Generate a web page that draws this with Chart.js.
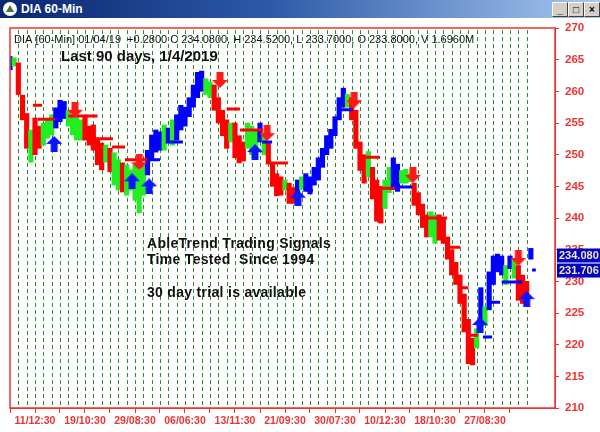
<!DOCTYPE html>
<html>
<head>
<meta charset="utf-8">
<script src="https://cdn.jsdelivr.net/npm/chart.js@4.4.1/dist/chart.umd.min.js"></script>
<style>
body { margin: 0; background: #fff; font-family: Arial, "Liberation Sans", sans-serif; }
#win { position: relative; width: 600px; height: 432px; overflow: hidden; }
#bar { position: absolute; left: 0; top: 0; width: 600px; height: 18px;
  background: linear-gradient(to right, #0a2670 0%, #2c5aa8 45%, #a8c8f0 100%); }
#bar .ico { position: absolute; left: 3px; top: 2px; width: 14px; height: 14px; border-radius: 7px; background: #fff; }
#bar .ico:after { content: ""; position: absolute; left: 3px; top: 3px; border-left: 4px solid transparent;
  border-right: 4px solid transparent; border-bottom: 7px solid #3d7a3d; }
#bar .ttl { position: absolute; left: 21px; top: 2px; color: #fff; font: bold 12px Arial, "Liberation Sans", sans-serif; }
#bar .btn { position: absolute; top: 2px; width: 14px; height: 13px; background: #d4d0c8;
  border: 1px solid; border-color: #fff #404040 #404040 #fff; font: bold 10px Arial, sans-serif;
  color: #000; text-align: center; line-height: 13px; }
canvas { position: absolute; left: 0; top: 0; }
</style>
</head>
<body>
<div id="win">
  <canvas id="chart" width="600" height="432"></canvas>
  <div id="bar">
    <div class="ico"></div>
    <div class="ttl">DIA 60-Min</div>
    <div class="btn" style="left:552px">_</div>
    <div class="btn" style="left:568px">□</div>
    <div class="btn" style="left:584px">×</div>
  </div>
</div>
<script>
// hourly bars, one per slot, lows / highs / trend colour (b = up, g = neutral, r = down)
var lows = [263.4, 264.0, 259.5, 255.5, 251.0, 248.8, 250.0, 251.0, 251.5, 252.6,
  253.1, 254.2, 255.2, 255.7, 254.5, 253.1, 252.3, 252.3, 252.3, 251.5,
  250.7, 248.4, 247.6, 248.8, 247.3, 245.2, 244.4, 244.1, 243.6, 244.4,
  242.8, 240.8, 243.6, 246.8, 249.2, 250.4, 250.7, 250.7, 251.8, 251.5,
  252.3, 253.9, 254.5, 256.0, 257.5, 259.0, 260.0, 259.5, 259.0, 257.0,
  255.0, 253.0, 251.0, 252.0, 249.5, 248.7, 249.0, 251.0, 250.0, 250.7,
  252.0, 250.0, 248.5, 245.0, 243.5, 243.6, 244.4, 242.3, 242.3, 243.0,
  244.5, 244.2, 243.8, 245.2, 246.0, 248.0, 250.0, 251.0, 253.0, 255.5,
  257.5, 257.5, 255.5, 251.0, 247.5, 245.5, 246.5, 243.0, 239.5, 239.2,
  241.5, 244.0, 244.5, 244.2, 245.5, 245.5, 245.7, 242.0, 240.5, 238.5,
  237.0, 237.0, 236.0, 236.5, 236.0, 233.5, 231.0, 229.5, 226.5, 222.0,
  217.0, 216.8, 219.5, 223.5, 223.0, 225.5, 229.5, 231.5, 231.0, 229.5,
  232.0, 230.5, 227.0, 226.5, 228.0, 233.5];
var highs = [265.5, 265.3, 264.5, 259.4, 256.5, 253.9, 255.8, 254.5, 255.0, 255.5,
  256.3, 257.4, 258.6, 258.4, 257.0, 256.0, 255.8, 255.5, 255.9, 254.5,
  254.7, 252.3, 251.8, 251.5, 251.0, 250.3, 249.2, 248.7, 248.4, 247.6,
  248.4, 247.6, 248.4, 250.7, 253.1, 253.9, 253.6, 254.7, 254.2, 255.5,
  256.3, 257.8, 257.5, 259.0, 261.0, 263.0, 263.2, 262.0, 261.5, 261.0,
  259.0, 257.0, 255.5, 255.0, 255.0, 253.0, 252.0, 255.0, 254.5, 254.0,
  255.0, 253.5, 252.0, 248.5, 247.0, 246.5, 246.0, 245.5, 244.8, 246.0,
  246.5, 247.0, 246.5, 248.0, 249.5, 251.0, 253.0, 254.0, 256.0, 259.0,
  260.5, 259.5, 259.0, 257.0, 252.0, 250.0, 250.5, 248.0, 246.0, 245.0,
  246.0, 248.0, 249.5, 248.5, 247.5, 247.7, 247.0, 245.5, 244.0, 242.0,
  240.5, 241.0, 240.5, 240.5, 240.0, 237.0, 235.0, 233.0, 231.0, 228.0,
  224.0, 221.0, 222.5, 229.0, 226.0, 231.5, 234.0, 234.3, 234.0, 232.5,
  234.0, 233.5, 232.5, 231.0, 230.0, 235.2];
var trend = ['b','g','r','r','r','g','r','r','g','g',
  'g','b','b','b','g','g','g','g','r','r',
  'r','r','r','g','r','g','g','r','g','g',
  'g','g','g','b','b','b','b','g','b','g',
  'b','b','b','b','b','b','b','g','g','r',
  'r','r','r','g','r','r','r','g','g','g',
  'b','g','r','r','r','r','g','r','r','b',
  'g','b','b','b','b','b','b','b','b','b',
  'b','g','r','r','r','r','g','r','r','r',
  'g','g','b','b','g','g','g','r','r','r',
  'r','g','g','r','r','r','r','r','r','r',
  'r','r','g','b','g','b','b','b','b','g',
  'b','g','r','r','r','b'];

// trailing stop segments: start slot, end slot, level, colour
var stopFrom  = [5.5, 6.7, 14, 20.4, 24.5, 27.6, 33.0, 38.4, 52, 55.2, 60.5, 62.4, 71.3, 79.2, 84, 88.8, 92.4, 97.7, 100, 105, 108.5, 110, 113.5, 115.2, 118, 125.3];
var stopTo    = [7.7, 10.8, 21, 24.7, 27.6, 33.0, 36.0, 41.5, 55.2, 60.7, 62.9, 66.7, 72.7, 82.3, 88.8, 92.4, 96.5, 99.6, 104.9, 108, 110, 112.3, 115.7, 117.6, 122.9, 126.2];
var stopLevel = [257.8, 255.6, 256.1, 252.5, 251.2, 249.2, 249.2, 252.0, 257.2, 253.9, 252.0, 248.7, 244.4, 257.1, 249.6, 244.7, 244.9, 242.0, 240.0, 235.4, 229.0, 221.5, 221.2, 226.7, 229.9, 231.8];
var stopColor = ['r','r','r','r','r','r','b','b','r','r','b','r','b','b','r','r','b','r','r','r','r','r','b','b','b','b'];

// signal arrows
var sellX = [15.6, 31.0, 50.4, 61.7, 82.6, 96.7, 122.0];
var sellY = [257.1, 248.8, 261.8, 253.4, 258.6, 246.8, 233.7];
var buyX = [10.6, 29.3, 33.4, 58.8, 69.1, 112.8, 124.0];
var buyY = [251.7, 245.8, 245.0, 250.4, 243.2, 223.1, 227.2];

var xTickPos = [6, 18, 30, 42, 54, 66, 78, 90, 102, 114];
var xTickText = ['11/12:30', '19/10:30', '29/08:30', '06/06:30', '13/11:30', '21/09:30', '30/07:30', '10/12:30', '18/10:30', '27/08:30'];

var lastClose = 234.08;
var lastStop = 231.706;

var colorMap = { b: '#0000ff', g: '#22ee22', r: '#ff0000' };
var RED = '#ee3333';
var FONT = 'Arial, "Liberation Sans", sans-serif';

function makeArrow(color, up) {
  var c = document.createElement('canvas');
  c.width = 16; c.height = 16;
  var g = c.getContext('2d');
  g.fillStyle = color;
  g.beginPath();
  if (up) {
    g.moveTo(8, 0); g.lineTo(16, 8); g.lineTo(11.5, 8); g.lineTo(11.5, 16);
    g.lineTo(4.5, 16); g.lineTo(4.5, 8); g.lineTo(0, 8);
  } else {
    g.moveTo(8, 16); g.lineTo(16, 8); g.lineTo(11.5, 8); g.lineTo(11.5, 0);
    g.lineTo(4.5, 0); g.lineTo(4.5, 8); g.lineTo(0, 8);
  }
  g.closePath();
  g.fill();
  return c;
}

function stopData(col) {
  var pts = [];
  for (var i = 0; i < stopFrom.length; i++) {
    if (stopColor[i] !== col) continue;
    pts.push({ x: stopFrom[i], y: stopLevel[i] });
    pts.push({ x: stopTo[i], y: stopLevel[i] });
    pts.push({ x: stopTo[i], y: null });
  }
  return pts;
}

var barData = lows.map(function (lo, i) { return { x: i, y: [lo, highs[i]] }; });

var decor = {
  id: 'decor',
  beforeDatasetsDraw: function (chart) {
    var ctx = chart.ctx, a = chart.chartArea, xs = chart.scales.x;
    ctx.save();
    ctx.strokeStyle = '#2a8f2a';
    ctx.lineWidth = 1;
    ctx.setLineDash([4, 3]);
    for (var v = 2; v <= 124; v += 2) {
      var px = Math.round(xs.getPixelForValue(v)) + 0.5;
      ctx.beginPath();
      ctx.moveTo(px, a.top + 2);
      ctx.lineTo(px, a.bottom);
      ctx.stroke();
    }
    ctx.restore();
  },
  afterDatasetsDraw: function (chart) {
    var ctx = chart.ctx, a = chart.chartArea, ys = chart.scales.y;
    ctx.save();
    ctx.strokeStyle = RED;
    ctx.lineWidth = 1.5;
    ctx.strokeRect(a.left, a.top, a.right - a.left, a.bottom - a.top);

    ctx.fillStyle = '#111';
    ctx.textBaseline = 'middle';
    ctx.font = '11px ' + FONT;
    ctx.fillText('DIA [60-Min] 01/04/19  +0.2800 C 234.0800, H 234.5200, L 233.7000, O 233.8000, V 1.6960M', 14, 40);
    ctx.font = 'bold 15px ' + FONT;
    ctx.fillText('Last 90 days, 1/4/2019', 61, 57);
    ctx.font = 'bold 14px ' + FONT;
    ctx.letterSpacing = '0.3px';
    ctx.fillText('AbleTrend Trading Signals', 147, 244);
    ctx.fillText('Time Tested  Since 1994', 147, 260);
    ctx.fillText('30 day trial is available', 147, 293);
    ctx.letterSpacing = '0px';

    // last value tags on the price axis
    var tags = [lastClose.toFixed(3), lastStop.toFixed(3)];
    var vals = [lastClose, lastStop];
    ctx.font = 'bold 11px ' + FONT;
    for (var i = 0; i < 2; i++) {
      var py = ys.getPixelForValue(vals[i]);
      ctx.fillStyle = '#0000c8';
      ctx.fillRect(a.right + 2, py - 7, 45, 14);
      ctx.fillStyle = '#f0e8a8';
      ctx.fillText(tags[i], a.right + 4, py + 0.5);
    }
    ctx.restore();
  }
};

new Chart(document.getElementById('chart').getContext('2d'), {
  type: 'bar',
  data: {
    datasets: [
      { type: 'line', data: stopData('r'), borderColor: '#ff0000', borderWidth: 3, pointRadius: 0, spanGaps: false, order: 2 },
      { type: 'line', data: stopData('b'), borderColor: '#0000ff', borderWidth: 3, pointRadius: 0, spanGaps: false, order: 2 },
      { type: 'bar', data: barData, backgroundColor: trend.map(function (c) { return colorMap[c]; }),
        barThickness: 4.5, grouped: false, order: 3 },
      { type: 'line', data: sellX.map(function (x, i) { return { x: x, y: sellY[i] }; }), showLine: false,
        pointStyle: makeArrow('#ff1a1a', false), order: 1 },
      { type: 'line', data: buyX.map(function (x, i) { return { x: x, y: buyY[i] }; }), showLine: false,
        pointStyle: makeArrow('#0a14ff', true), order: 1 }
    ]
  },
  options: {
    responsive: false,
    animation: false,
    layout: { padding: { top: 28, left: 10, right: 0, bottom: 0 } },
    plugins: { legend: { display: false }, tooltip: { enabled: false } },
    scales: {
      x: {
        type: 'linear', min: 0, max: 130.8, offset: false,
        afterFit: function (s) { s.height = 24; },
        afterBuildTicks: function (s) {
          var t = [];
          for (var v = 0; v <= 120; v += 6) t.push({ value: v });
          s.ticks = t;
        },
        ticks: {
          autoSkip: false, maxRotation: 0, padding: 2,
          color: RED, font: { family: FONT, size: 10.5, weight: 'bold' },
          callback: function (v) { var k = xTickPos.indexOf(v); return k >= 0 ? xTickText[k] : ''; }
        },
        grid: { drawOnChartArea: false, offset: false, tickLength: 5, tickColor: RED },
        border: { color: RED }
      },
      y: {
        position: 'right', min: 210, max: 270,
        afterFit: function (s) { s.width = 45; },
        ticks: { stepSize: 5, padding: 6, color: RED, font: { family: FONT, size: 11.5, weight: 'bold' } },
        grid: { drawOnChartArea: false, tickLength: 4, tickColor: RED },
        border: { color: RED }
      }
    }
  },
  plugins: [decor]
});
</script>
</body>
</html>
